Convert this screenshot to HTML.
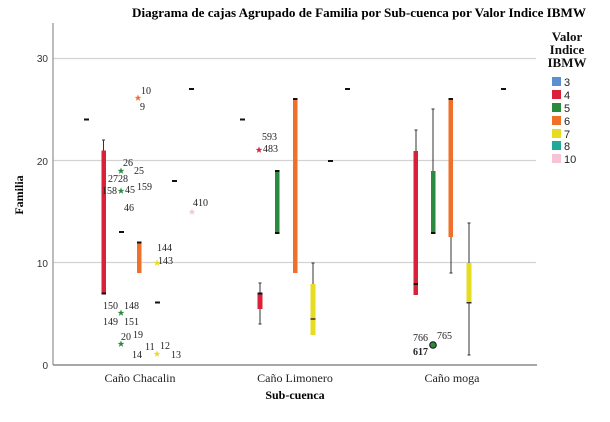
<!DOCTYPE html>
<html><head><meta charset="utf-8"><style>
html,body{margin:0;padding:0;background:#fff;}
svg{display:block;}
.t{font-family:"Liberation Serif",serif;}
.s{font-family:"Liberation Sans",sans-serif;}
</style></head><body>
<svg width="610" height="422" viewBox="0 0 610 422" xmlns="http://www.w3.org/2000/svg">
<defs>
<symbol id="star" viewBox="-5 -5 10 10"><polygon points="0,-4.5 1.1,-1.4 4.3,-1.4 1.7,0.5 2.7,3.6 0,1.7 -2.7,3.6 -1.7,0.5 -4.3,-1.4 -1.1,-1.4"/></symbol>
</defs>
<!-- title -->
<text class="t" x="359" y="17" font-size="13" font-weight="bold" text-anchor="middle" textLength="454" lengthAdjust="spacingAndGlyphs">Diagrama de cajas Agrupado de Familia por Sub-cuenca por Valor Indice IBMW</text>
<!-- gridlines -->
<g stroke="#d3d3d3" stroke-width="1.2">
<line x1="53" y1="58.5" x2="536" y2="58.5"/>
<line x1="53" y1="160.5" x2="536" y2="160.5"/>
<line x1="53" y1="262.5" x2="536" y2="262.5"/>
</g>
<!-- axes -->
<line x1="53" y1="23" x2="53" y2="365" stroke="#999" stroke-width="1.3"/>
<line x1="53" y1="365" x2="537" y2="365" stroke="#8a8a8a" stroke-width="1.6"/>
<!-- y tick labels -->
<g class="s" font-size="10" fill="#333" text-anchor="end">
<text x="48" y="62">30</text>
<text x="48" y="165">20</text>
<text x="48" y="267">10</text>
<text x="48" y="369">0</text>
</g>
<text class="t" font-size="12" font-weight="bold" transform="translate(23,195) rotate(-90)" text-anchor="middle">Familia</text>
<!-- x labels -->
<g class="t" font-size="12" fill="#222" text-anchor="middle">
<text x="140" y="382">Caño Chacalin</text>
<text x="295" y="382">Caño Limonero</text>
<text x="452" y="382">Caño moga</text>
</g>
<text class="t" x="295" y="399" font-size="12" font-weight="bold" text-anchor="middle">Sub-cuenca</text>

<!-- ===== Caño Chacalin ===== -->
<!-- group 3 median dash -->
<rect x="84" y="118.5" width="5" height="2" fill="#111"/>
<!-- red 4 -->
<line x1="103.5" y1="140" x2="103.5" y2="151" stroke="#333" stroke-width="1"/>
<line x1="102" y1="140" x2="105" y2="140" stroke="#333" stroke-width="1"/>
<rect x="101.5" y="150.5" width="4.5" height="143.5" fill="#d9213a"/>
<rect x="101.5" y="292.5" width="4.5" height="2" fill="#111"/>
<!-- green 5 -->
<rect x="119" y="231" width="5" height="2" fill="#111"/>
<g fill="#2a8a3e">
<use href="#star" x="117" y="167" width="8" height="8"/>
<use href="#star" x="117" y="187" width="8" height="8"/>
<use href="#star" x="117" y="309" width="8" height="8"/>
<use href="#star" x="117" y="340" width="8" height="8"/>
</g>
<!-- orange 6 -->
<rect x="137" y="242" width="4.5" height="31" fill="#f0702a"/>
<rect x="137" y="241.5" width="4.5" height="2" fill="#111"/>
<use href="#star" x="134" y="94" width="8" height="8" fill="#f0702a"/>
<!-- yellow 7 -->
<rect x="155" y="301.5" width="5" height="2" fill="#111"/>
<use href="#star" x="153" y="259" width="8" height="8" fill="#e6dc22"/>
<use href="#star" x="153" y="350" width="8" height="8" fill="#e6dc22"/>
<!-- group 8 dash -->
<rect x="172" y="180" width="5" height="2" fill="#111"/>
<!-- group 10 -->
<use href="#star" x="188" y="208" width="8" height="8" fill="#f6c3d8"/>
<rect x="189" y="88" width="5" height="2" fill="#111"/>
<!-- labels -->
<g class="t" font-size="10" fill="#222">
<text x="141" y="94">10</text>
<text x="140" y="110">9</text>
<text x="123" y="166">26</text>
<text x="134" y="174">25</text>
<text x="108" y="182">2728</text>
<text x="102" y="194">158</text>
<text x="125" y="193">45</text>
<text x="137" y="190">159</text>
<text x="124" y="211">46</text>
<text x="193" y="206">410</text>
<text x="157" y="251">144</text>
<text x="158" y="264">143</text>
<text x="103" y="309">150</text>
<text x="124" y="309">148</text>
<text x="103" y="325">149</text>
<text x="124" y="325">151</text>
<text x="121" y="340">20</text>
<text x="133" y="338">19</text>
<text x="132" y="358">14</text>
<text x="145" y="350">11</text>
<text x="160" y="349">12</text>
<text x="171" y="358">13</text>
</g>

<!-- ===== Caño Limonero ===== -->
<rect x="240" y="118.5" width="5" height="2" fill="#111"/>
<!-- red -->
<line x1="260" y1="283" x2="260" y2="324" stroke="#333" stroke-width="1"/>
<line x1="258.5" y1="283" x2="261.5" y2="283" stroke="#333" stroke-width="1"/>
<line x1="258.5" y1="324" x2="261.5" y2="324" stroke="#333" stroke-width="1"/>
<rect x="257.5" y="293" width="5" height="16" fill="#d9213a"/>
<rect x="257.5" y="292.5" width="5" height="2" fill="#111"/>
<use href="#star" x="255" y="146" width="8" height="8" fill="#d9213a"/>
<g class="t" font-size="10" fill="#222">
<text x="262" y="140">593</text>
<text x="263" y="152">483</text>
</g>
<!-- green -->
<rect x="275" y="171" width="4.5" height="62" fill="#2a8a3e"/>
<rect x="275" y="170" width="4.5" height="2" fill="#111"/>
<rect x="275" y="232" width="4.5" height="2" fill="#111"/>
<!-- orange -->
<rect x="293" y="99" width="4.5" height="174" fill="#f0702a"/>
<rect x="293" y="98" width="4.5" height="2" fill="#111"/>
<!-- yellow -->
<line x1="313" y1="263" x2="313" y2="335" stroke="#333" stroke-width="1"/>
<line x1="311.5" y1="263" x2="314.5" y2="263" stroke="#333" stroke-width="1"/>
<rect x="310.5" y="284" width="5" height="51" fill="#e6dc22"/>
<rect x="310.5" y="318" width="5" height="2" fill="#6b5a20"/>
<!-- group 8 / 10 -->
<rect x="328" y="160" width="5" height="2" fill="#111"/>
<rect x="345" y="88" width="5" height="2" fill="#111"/>

<!-- ===== Caño moga ===== -->
<!-- red -->
<line x1="416" y1="130" x2="416" y2="151" stroke="#333" stroke-width="1"/>
<line x1="414.5" y1="130" x2="417.5" y2="130" stroke="#333" stroke-width="1"/>
<rect x="413.5" y="151" width="4.5" height="144" fill="#d9213a"/>
<rect x="413.5" y="283" width="4.5" height="2" fill="#111"/>
<!-- green -->
<line x1="433" y1="109" x2="433" y2="172" stroke="#333" stroke-width="1"/>
<line x1="431.5" y1="109" x2="434.5" y2="109" stroke="#333" stroke-width="1"/>
<rect x="431" y="171" width="4.5" height="62" fill="#2a8a3e"/>
<rect x="431" y="232" width="4.5" height="2" fill="#111"/>
<circle cx="433" cy="345" r="3.3" fill="#2a8a3e" stroke="#111" stroke-width="1"/>
<g class="t" font-size="10" fill="#222">
<text x="413" y="341">766</text>
<text x="437" y="339">765</text>
<text x="413" y="355" font-weight="bold">617</text>
</g>
<!-- orange -->
<line x1="451" y1="237" x2="451" y2="273" stroke="#333" stroke-width="1"/>
<line x1="449.5" y1="273" x2="452.5" y2="273" stroke="#333" stroke-width="1"/>
<rect x="448.5" y="99" width="4.5" height="138" fill="#f0702a"/>
<rect x="448.5" y="98" width="4.5" height="2" fill="#111"/>
<!-- yellow -->
<line x1="469" y1="223" x2="469" y2="355" stroke="#333" stroke-width="1"/>
<line x1="467.5" y1="223" x2="470.5" y2="223" stroke="#333" stroke-width="1"/>
<line x1="467.5" y1="355" x2="470.5" y2="355" stroke="#333" stroke-width="1"/>
<rect x="466.5" y="263" width="5" height="40" fill="#e6dc22"/>
<rect x="466.5" y="302" width="5" height="1.5" fill="#333"/>
<!-- group 10 -->
<rect x="501" y="88" width="5" height="2" fill="#111"/>

<!-- legend -->
<g class="t" font-size="13" font-weight="bold" text-anchor="middle" fill="#111">
<text x="567" y="41">Valor</text>
<text x="567" y="54">Indice</text>
<text x="567" y="67">IBMW</text>
</g>
<g>
<rect x="552" y="77" width="9" height="9" fill="#5b8fd0"/>
<rect x="552" y="90" width="9" height="9" fill="#d9213a"/>
<rect x="552" y="103" width="9" height="9" fill="#2a8a3e"/>
<rect x="552" y="116" width="9" height="9" fill="#f0702a"/>
<rect x="552" y="129" width="9" height="9" fill="#e6dc22"/>
<rect x="552" y="141" width="9" height="9" fill="#1ea998"/>
<rect x="552" y="154" width="9" height="9" fill="#f6c3d8"/>
</g>
<g class="s" font-size="11" fill="#222">
<text x="564" y="86">3</text>
<text x="564" y="99">4</text>
<text x="564" y="112">5</text>
<text x="564" y="125">6</text>
<text x="564" y="138">7</text>
<text x="564" y="150">8</text>
<text x="564" y="163">10</text>
</g>
</svg>
</body></html>
